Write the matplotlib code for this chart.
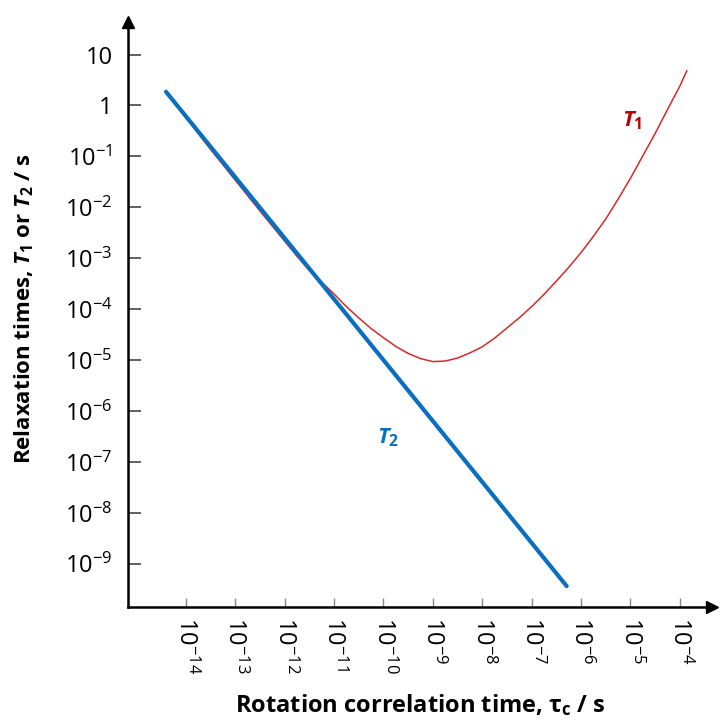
import numpy as np
import matplotlib.pyplot as plt

plt.rcParams["font.family"] = "Open Sans"
plt.rcParams["mathtext.fontset"] = "custom"
plt.rcParams["mathtext.rm"] = "Open Sans"
plt.rcParams["mathtext.it"] = "Open Sans:italic:bold"
plt.rcParams["mathtext.bf"] = "Open Sans:bold"

# values, as log10 (seconds)
t2_logtau = [-14.40, -6.29]
t2_logT = [0.27, -9.44]

t1_logtau = [-14.40, -13.5, -12.5, -11.75, -11.5, -11.25, -11.0, -10.75, -10.5,
             -10.25, -10.0, -9.75, -9.5, -9.25, -9.0, -8.75, -8.5, -8.25, -8.0,
             -7.75, -7.5, -7.25, -7.0, -6.75, -6.5, -6.25, -6.0, -5.75, -5.5,
             -5.25, -5.0, -4.75, -4.5, -4.25, -4.0, -3.86]
t1_logT = [0.27, -0.86, -2.07, -2.96, -3.24, -3.47, -3.70, -3.95, -4.17,
           -4.38, -4.56, -4.73, -4.87, -4.97, -5.03, -5.02, -4.96, -4.86, -4.74,
           -4.57, -4.37, -4.17, -3.95, -3.71, -3.45, -3.18, -2.89, -2.57, -2.23,
           -1.84, -1.43, -0.99, -0.55, -0.08, 0.38, 0.68]

x_tick_exp = list(range(-14, -3))
y_tick_exp = list(range(-9, 2))
y_tick_labels = ["$10^{%d}$" % e for e in range(-9, 0)] + ["1", "10"]
x_tick_labels = ["$10^{%d}$" % e for e in x_tick_exp]

red = "#d42a2a"
blue = "#0a6fc0"

fig = plt.figure(figsize=(7.23, 7.21), dpi=100)
ax = fig.add_axes([0.1770, 0.1581, 0.8077, 0.8114])
ax.set_xscale("log")
ax.set_yscale("log")
ax.set_xlim(10**-15.17, 10**-3.35)
ax.set_ylim(10**-9.85, 10**1.64)

# curves
ax.plot(10.0 ** np.array(t1_logtau), 10.0 ** np.array(t1_logT), color=red, lw=1.1,
        zorder=2, solid_joinstyle="round")
ax.plot(10.0 ** np.array(t2_logtau), 10.0 ** np.array(t2_logT), color=blue, lw=3,
        solid_capstyle="round", zorder=3)

ax.text(10**-4.97, 10**-0.30, r"$T_\mathbf{1}$", color="#c00000", fontsize=16,
        ha="center", va="center")
ax.text(10**-9.91, 10**-6.53, r"$T_\mathbf{2}$", color=blue, fontsize=16,
        ha="center", va="center")

# axes with arrows
for s in ["top", "right"]:
    ax.spines[s].set_visible(False)
for s in ["left", "bottom"]:
    ax.spines[s].set_linewidth(1.8)
ax.plot(1, 0, ">k", transform=ax.transAxes, clip_on=False, markersize=9)
ax.plot(0, 1, "^k", transform=ax.transAxes, clip_on=False, markersize=9)

ax.minorticks_off()
ax.set_xticks([10.0**e for e in x_tick_exp])
ax.set_xticklabels(x_tick_labels)
ax.set_yticks([10.0**e for e in y_tick_exp])
ax.set_yticklabels(y_tick_labels)
ax.tick_params(axis="y", direction="in", length=9.4, width=1.3, color="#555555",
               pad=11, labelsize=17)
ax.tick_params(axis="x", direction="in", length=6.5, width=1.0, color="#888888",
               pad=7, labelsize=17, labelrotation=-90)

ax.set_xlabel(r"Rotation correlation time, τ$_\mathbf{c}$ / s", fontsize=17,
              fontweight="bold")
ax.set_ylabel(r"Relaxation times, $T_\mathbf{1}$ or $T_\mathbf{2}$ / s", fontsize=16,
              fontweight="bold")
ax.xaxis.set_label_coords(0.5, -0.145)
ax.yaxis.set_label_coords(-0.158, 0.51)

fig.savefig("out.png", dpi=100)
